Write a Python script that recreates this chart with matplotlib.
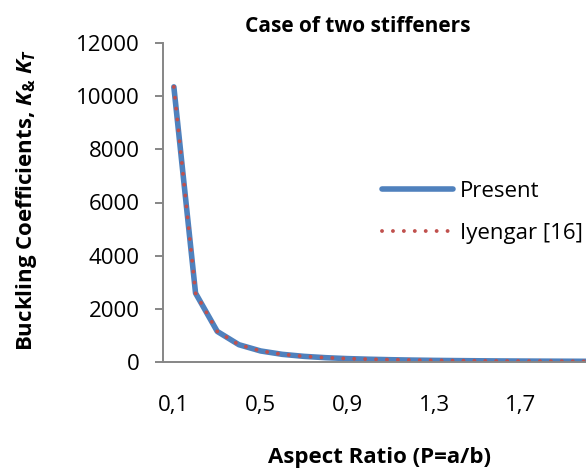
import numpy as np
import matplotlib
matplotlib.use('Agg')
import matplotlib.pyplot as plt

plt.rcParams['font.family'] = ['Open Sans', 'DejaVu Sans']
plt.rcParams['mathtext.fontset'] = 'custom'
plt.rcParams['mathtext.rm'] = 'Open Sans:bold'
plt.rcParams['mathtext.it'] = 'Open Sans:bold:italic'
plt.rcParams['mathtext.bf'] = 'Open Sans:bold'

# data
aspect_ratio = ['0,1', '0,2', '0,3', '0,4', '0,5', '0,6', '0,7', '0,8', '0,9', '1,0',
                '1,1', '1,2', '1,3', '1,4', '1,5', '1,6', '1,7', '1,8', '1,9', '2,0']
present = [10350, 2590, 1150, 650, 415, 288, 212, 162, 128, 104,
           86, 72, 61, 53, 46, 40, 36, 32, 29, 26]
iyengar = [10350, 2590, 1150, 650, 415, 288, 212, 162, 128, 104,
           86, 72, 61, 53, 46, 40, 36, 32, 29, 26]

blue = '#4F81BD'
red = '#C0504D'
axis_grey = '#868686'

W, H = 586, 472
fig = plt.figure(figsize=(W/100, H/100), dpi=100)
ax = fig.add_axes([163/W, (H-362)/H, 434/W, 319/H])

x = np.arange(len(aspect_ratio))
ax.plot(x, present, color=blue, linewidth=4.0, solid_capstyle='round', label='Present')
ax.plot(x, iyengar, color=red, linewidth=2.8, linestyle=(0, (0.01, 2.8)),
        dash_capstyle='round', label='Iyengar [16]')

ax.set_xlim(-0.5, len(aspect_ratio) - 0.5)
ax.set_ylim(0, 12000)
ax.set_yticks(np.arange(0, 12001, 2000))
ax.set_xticks(x[::4])
ax.set_xticklabels(aspect_ratio[::4])

for side in ['top', 'right']:
    ax.spines[side].set_visible(False)
for side in ['left', 'bottom']:
    ax.spines[side].set_color(axis_grey)
    ax.spines[side].set_linewidth(1.4)

ax.tick_params(axis='y', direction='out', length=5.8, width=1.4, color=axis_grey,
               pad=11, labelsize=16)
ax.tick_params(axis='x', length=0, pad=24, labelsize=16)

fig.text(358/W, (H-32)/H, 'Case of two stiffeners', fontsize=15, fontweight='bold',
         ha='center', va='baseline')
fig.text(380/W, (H-458)/H, 'Aspect Ratio (P=a/b)', fontsize=16, fontweight='bold',
         ha='center', va='center')
fig.text(27/W, (H-200)/H, r'Buckling Coefficients, $K_{&}$ $K_T$', fontsize=16,
         fontweight='bold', rotation=90, ha='center', va='center')

leg = ax.legend(frameon=False, loc='upper left', bbox_to_anchor=(382/W, 1 - 181/H),
                bbox_transform=fig.transFigure, fontsize=16, handlelength=3.2,
                handletextpad=0.3, labelspacing=0.95, borderpad=0, borderaxespad=0)

fig.savefig('out.png', dpi=100)
